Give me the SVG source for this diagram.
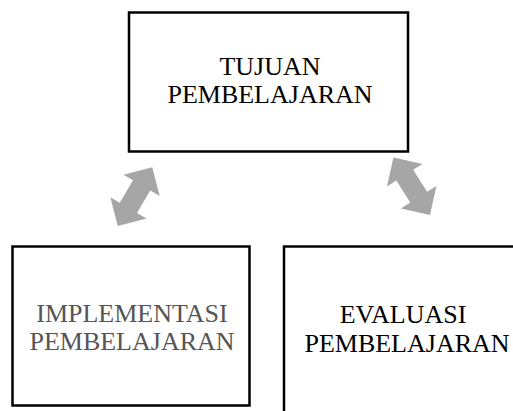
<svg xmlns="http://www.w3.org/2000/svg" width="513" height="411" viewBox="0 0 513 411">
  <defs>
    <style>
      .box { fill: #ffffff; stroke: #000000; stroke-width: 2.5; }
      .lbl { font-family: "Liberation Serif", "Times New Roman", serif; font-size: 26px; text-anchor: middle; fill: #000000; }
      .gray { fill: #555555; }
      .arrow { fill: #A6A6A6; stroke: none; }
    </style>
    <polygon id="dblarrow" points="34,0 13,-21 13,-10 -13,-10 -13,-21 -34,0 -13,21 -13,10 13,10 13,21"/>
  </defs>
  <rect width="513" height="411" fill="#ffffff"/>
  <g id="connectors">
    <use href="#dblarrow" class="arrow" transform="translate(135,196.6) rotate(-59.5)"/>
    <use href="#dblarrow" class="arrow" transform="translate(411.7,186.2) rotate(57.5)"/>
  </g>
  <g id="tujuan">
    <rect class="box" x="129" y="12.5" width="279" height="139"/>
    <text class="lbl" x="270" y="75">TUJUAN</text>
    <text class="lbl" x="270" y="103">PEMBELAJARAN</text>
  </g>
  <g id="implementasi">
    <rect class="box" x="12.5" y="246.5" width="237" height="159"/>
    <text class="lbl gray" x="132" y="322">IMPLEMENTASI</text>
    <text class="lbl gray" x="132" y="350">PEMBELAJARAN</text>
  </g>
  <g id="evaluasi">
    <rect class="box" x="284" y="246.5" width="260" height="200"/>
    <text class="lbl" x="403" y="323">EVALUASI</text>
    <text class="lbl" x="407" y="351.5">PEMBELAJARAN</text>
  </g>
</svg>
